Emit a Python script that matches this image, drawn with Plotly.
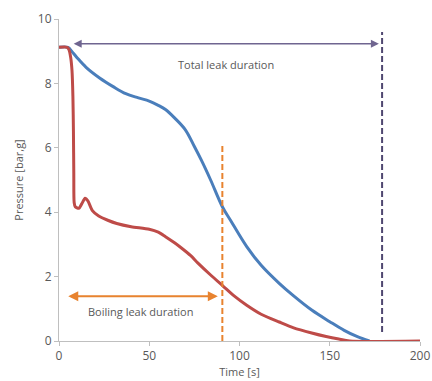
import plotly.graph_objects as go

# Pressure history of the vessel during the leak
time_total = [0, 5, 7, 10, 15, 22.5, 30, 37, 44, 50, 55, 59, 64, 70, 75, 79, 84,
              90.5, 95, 104, 112, 122, 130, 140, 150, 158, 165, 172]
pressure_total = [9.12, 9.12, 9.0, 8.8, 8.5, 8.17, 7.9, 7.68, 7.55, 7.45, 7.32, 7.19,
                  6.93, 6.56, 6.04, 5.6, 5.0, 4.17, 3.75, 2.93, 2.35, 1.79, 1.4, 0.96,
                  0.6, 0.33, 0.14, 0.0]

time_boil = [0, 4.5, 5.5, 6.5, 7.2, 7.7, 8.0, 8.2, 8.4, 9, 11, 12.5, 14.5, 16, 18.5,
             22, 27, 32, 40, 50, 55, 59, 64, 68, 73, 77, 84, 91, 97, 104, 112, 122,
             130, 140, 148, 155, 161, 200]
pressure_boil = [9.12, 9.12, 9.05, 8.8, 8.4, 7.6, 6.5, 5.2, 4.3, 4.17, 4.12, 4.25,
                 4.43, 4.35, 4.05, 3.88, 3.75, 3.65, 3.55, 3.47, 3.38, 3.24, 3.05,
                 2.88, 2.65, 2.42, 2.05, 1.7, 1.4, 1.11, 0.83, 0.59, 0.41, 0.25, 0.14,
                 0.06, 0.0, 0.0]

# Durations marked on the chart
total_leak_start, total_leak_end = 7.3, 179
boil_leak_start, boil_leak_end = 4.3, 90.5
total_label = "Total leak duration"
boil_label = "Boiling leak duration"

x_ticks = [0, 50, 100, 150, 200]
y_ticks = [0, 2, 4, 6, 8, 10]

BLUE = "#4A7EBB"
RED = "#BE4B48"
ORANGE = "#E8832F"
PURPLE = "#6F6590"
PURPLE_DARK = "#4F4770"
GREY_TEXT = "#595959"
AXIS = "#BFBFBF"

fig = go.Figure()
fig.add_trace(go.Scatter(x=time_total, y=pressure_total, mode="lines",
                         line=dict(color=BLUE, width=3, shape="spline", smoothing=1.0),
                         showlegend=False))
fig.add_trace(go.Scatter(x=time_boil, y=pressure_boil, mode="lines",
                         line=dict(color=RED, width=3, shape="spline", smoothing=0.7),
                         showlegend=False))

# Vertical markers at the end of each phase
fig.add_shape(type="line", x0=boil_leak_end, x1=boil_leak_end, y0=0, y1=6.1,
              xref="x", yref="y", line=dict(color=ORANGE, width=2, dash="6px,3px"))
fig.add_shape(type="line", x0=total_leak_end, x1=total_leak_end, y0=0.28, y1=9.6,
              xref="x", yref="y", line=dict(color=PURPLE_DARK, width=2, dash="6px,3px"))

# Duration arrows
fig.add_annotation(x=total_leak_end - 1.8, y=9.23, ax=total_leak_start, ay=9.23,
                   xref="x", yref="y", axref="x", ayref="y", text="",
                   showarrow=True, arrowhead=2, startarrowhead=2,
                   arrowside="end+start", arrowsize=1, startarrowsize=1,
                   arrowwidth=1.6, arrowcolor=PURPLE)
fig.add_annotation(x=boil_leak_end - 2.5, y=1.39, ax=boil_leak_start, ay=1.39,
                   xref="x", yref="y", axref="x", ayref="y", text="",
                   showarrow=True, arrowhead=2, startarrowhead=2,
                   arrowside="end+start", arrowsize=1, startarrowsize=1,
                   arrowwidth=2, arrowcolor=ORANGE)
fig.add_annotation(x=92.7, y=8.59, text=total_label, showarrow=False,
                   xref="x", yref="y", font=dict(size=11, color=GREY_TEXT))
fig.add_annotation(x=45.4, y=0.92, text=boil_label, showarrow=False,
                   xref="x", yref="y", font=dict(size=11, color=GREY_TEXT))

fig.update_layout(
    width=432, height=381,
    margin=dict(l=59, r=12, t=19, b=40),
    paper_bgcolor="white", plot_bgcolor="white",
    font=dict(family="Open Sans, sans-serif", size=12, color=GREY_TEXT),
)
fig.update_xaxes(range=[0, 200], tickvals=x_ticks, showgrid=False, zeroline=False,
                 showline=True, linecolor=AXIS, linewidth=1,
                 ticks="outside", ticklen=4, tickcolor=AXIS,
                 ticklabeloverflow="allow", automargin=False, tickfont=dict(size=12),
                 title=dict(text="Time [s]", standoff=2, font=dict(size=11)))
fig.update_yaxes(range=[0, 10], tickvals=y_ticks, showgrid=False, zeroline=False,
                 showline=True, linecolor=AXIS, linewidth=1, automargin=False,
                 ticks="outside", ticklen=4, tickcolor=AXIS, tickfont=dict(size=12),
                 title=dict(text="Pressure [bar,g]", standoff=12, font=dict(size=11)))

fig.write_html("out.html")
